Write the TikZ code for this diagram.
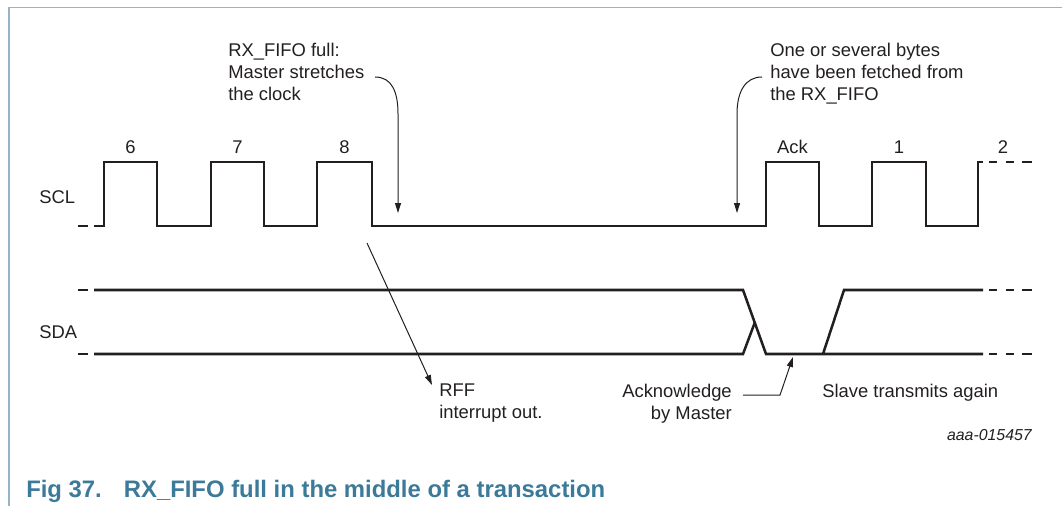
\documentclass[tikz,border=0pt]{standalone}
\usepackage{fontspec}
\setmainfont{Liberation Sans}
\usetikzlibrary{arrows.meta}
\definecolor{framecol}{RGB}{150,180,200}
\definecolor{capcol}{RGB}{59,122,152}
\definecolor{ink}{RGB}{35,31,32}
\begin{document}
\begin{tikzpicture}[x=0.75pt,y=-0.75pt,
  sig/.style={line width=1.9pt, draw=ink},
  ptr/.style={line width=0.75pt, draw=ink, -{Triangle[length=7.5pt,width=4.5pt]}},
  lbl/.style={font=\fontsize{13.8}{16.5}\selectfont, text=ink, inner sep=0pt},
  tag/.style={font=\fontsize{11.9}{14}\selectfont\itshape, text=ink, inner sep=0pt},
  captext/.style={font=\fontsize{17.9}{21}\selectfont\bfseries, text=capcol, inner sep=0pt}]
\useasboundingbox (0,0) rectangle (1062,506);
% frame
\draw[framecol, line width=1.1pt] (9,506) -- (9,7.5) -- (1062,7.5);
% SCL waveform
\draw[sig] (78,226) -- (88,226);
\draw[sig] (94,226) -- (104,226) -- (104,162) -- (157,162) -- (157,226) -- (211,226)
  -- (211,162) -- (264,162) -- (264,226) -- (317,226) -- (317,162) -- (372,162)
  -- (372,226) -- (766,226) -- (766,162) -- (819,162) -- (819,226) -- (872,226)
  -- (872,162) -- (926,162) -- (926,226) -- (978,226) -- (978,162) -- (983,162);
\foreach \a/\b in {989/997,1006/1014,1022/1032} \draw[sig] (\a,162) -- (\b,162);
% SDA waveform
\draw[sig] (78,290) -- (88,290);
\draw[sig] (78,354) -- (88,354);
\draw[sig] (94,290) -- (743,290) -- (766,354) -- (983,354);
\draw[sig] (94,354) -- (743,354) -- (755,322);
\draw[sig] (823,354) -- (844,290) -- (983,290);
\foreach \a/\b in {989/997,1006/1014,1022/1032} {
  \draw[sig] (\a,290) -- (\b,290);
  \draw[sig] (\a,354) -- (\b,354);
}
% signal names
\node[lbl, anchor=base west] (scl) at (39,203) {SCL};
\node[lbl, anchor=base west] (sda) at (39,338) {SDA};
% bit labels
\node[lbl, anchor=base] (b6) at (130.5,153) {6};
\node[lbl, anchor=base] (b7) at (237.5,153) {7};
\node[lbl, anchor=base] (b8) at (344.5,153) {8};
\node[lbl, anchor=base] (back) at (792.5,153) {Ack};
\node[lbl, anchor=base] (b1) at (899,153) {1};
\node[lbl, anchor=base] (b2) at (1003,153) {2};
% annotations
\node[lbl, align=left, anchor=north west] (full) at (228,43) {RX\_FIFO full:\\Master stretches\\the clock};
\node[lbl, align=left, anchor=north west] (fetch) at (770,43) {One or several bytes\\have been fetched from\\the RX\_FIFO};
\node[lbl, align=left, anchor=north west] (rff) at (439,384) {RFF\\interrupt out.};
\node[lbl, align=right, anchor=north east] (ackm) at (732,384) {Acknowledge\\by Master};
\node[lbl, anchor=base west] (slave) at (822,397) {Slave transmits again};
\node[tag, anchor=base east] (id) at (1032,440) {aaa-015457};
\node[captext, anchor=base west] (caption) at (26,497) {Fig 37.\hspace{16.5pt}RX\_FIFO full in the middle of a transaction};
% arrow end points
\coordinate (s1) at (375,77);
\coordinate (t1) at (398,213);
\coordinate (s2) at (762,77);
\coordinate (t2) at (737,213);
\coordinate (s3) at (367,243);
\coordinate (t3) at (432,385);
\coordinate (s4) at (743,395);
\coordinate (k4) at (780,395);
\coordinate (t4) at (793,357);
\draw[ptr] (s1) .. controls (392,77) and (398,92) .. (398,114) -- (t1);
\draw[ptr] (s2) .. controls (745,77) and (737,92) .. (737,114) -- (t2);
\draw[ptr] (s3) -- (t3);
\draw[ptr] (s4) -- (k4) -- (t4);
\end{tikzpicture}
\end{document}
